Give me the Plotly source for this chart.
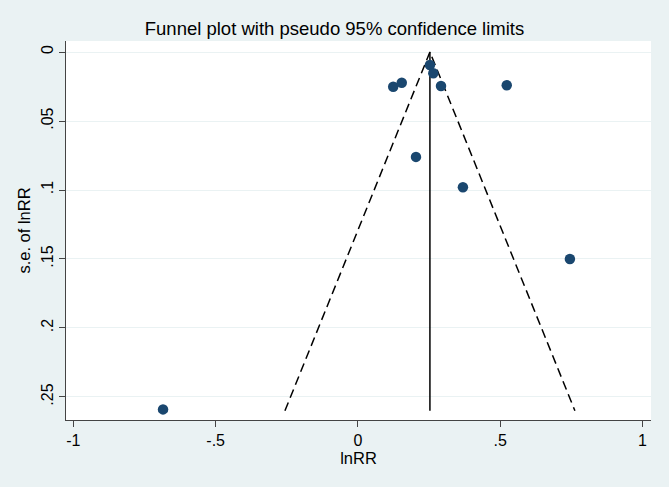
import plotly.graph_objects as go

# Study estimates (lnRR) and standard errors
lnrr = [-0.685, 0.124, 0.154, 0.253, 0.265, 0.292, 0.523, 0.204, 0.369, 0.745]
se_lnrr = [0.259, 0.0251, 0.0222, 0.0094, 0.0154, 0.0246, 0.0241, 0.076, 0.098, 0.150]
pooled = 0.253
se_max = 0.26
z = 1.96

x_tickvals = [-1, -0.5, 0, 0.5, 1]
x_ticktext = ["-1", "-.5", "0", ".5", "1"]
y_tickvals = [0, 0.05, 0.1, 0.15, 0.2, 0.25]
y_ticktext = ["0", ".05", ".1", ".15", ".2", ".25"]

bg = "#eaf2f3"
navy = "#1a476f"
font = "Liberation Sans, Arial, sans-serif"

fig = go.Figure()
# pseudo 95% confidence limits
fig.add_trace(go.Scatter(
    x=[pooled - z * se_max, pooled, pooled + z * se_max],
    y=[se_max, 0, se_max],
    mode="lines", line=dict(color="black", width=1.5, dash="9px,5px"),
    hoverinfo="skip", showlegend=False))
# pooled estimate line
fig.add_trace(go.Scatter(
    x=[pooled, pooled], y=[0, se_max],
    mode="lines", line=dict(color="black", width=1.5),
    hoverinfo="skip", showlegend=False))
# studies
fig.add_trace(go.Scatter(
    x=lnrr, y=se_lnrr, mode="markers",
    marker=dict(color=navy, size=10.5),
    showlegend=False))

fig.update_layout(
    width=669, height=487,
    paper_bgcolor=bg, plot_bgcolor="white",
    margin=dict(l=66, r=18, t=41, b=67, autoexpand=False),
    font=dict(family=font, size=16, color="black"),
    title=dict(text="Funnel plot with pseudo 95% confidence limits",
               x=0.5, xanchor="center", y=1 - 29 / 487, yanchor="middle",
               font=dict(size=18.5, family=font, color="black")),
    xaxis=dict(range=[-1.026, 1.03], tickvals=x_tickvals, ticktext=x_ticktext,
               showgrid=False, zeroline=False, showline=True,
               linecolor="#444444", linewidth=1.2, ticks="outside",
               ticklen=6, tickcolor="#444444", tickfont=dict(size=16),
               title=dict(text="lnRR", standoff=0, font=dict(size=16.5))),
    yaxis=dict(range=[0.2667, -0.008], tickvals=y_tickvals, ticktext=y_ticktext,
               showgrid=True, gridcolor=bg, gridwidth=1, zeroline=False,
               showline=True, linecolor="#444444", linewidth=1.2,
               ticks="outside", ticklen=6, tickcolor="#444444",
               tickangle=-90, tickfont=dict(size=16),
               title=dict(text="s.e. of lnRR", standoff=3, font=dict(size=16.5))),
)

fig.write_html("out.html", config={"displayModeBar": False},
               post_script="document.body.style.margin='0';")
